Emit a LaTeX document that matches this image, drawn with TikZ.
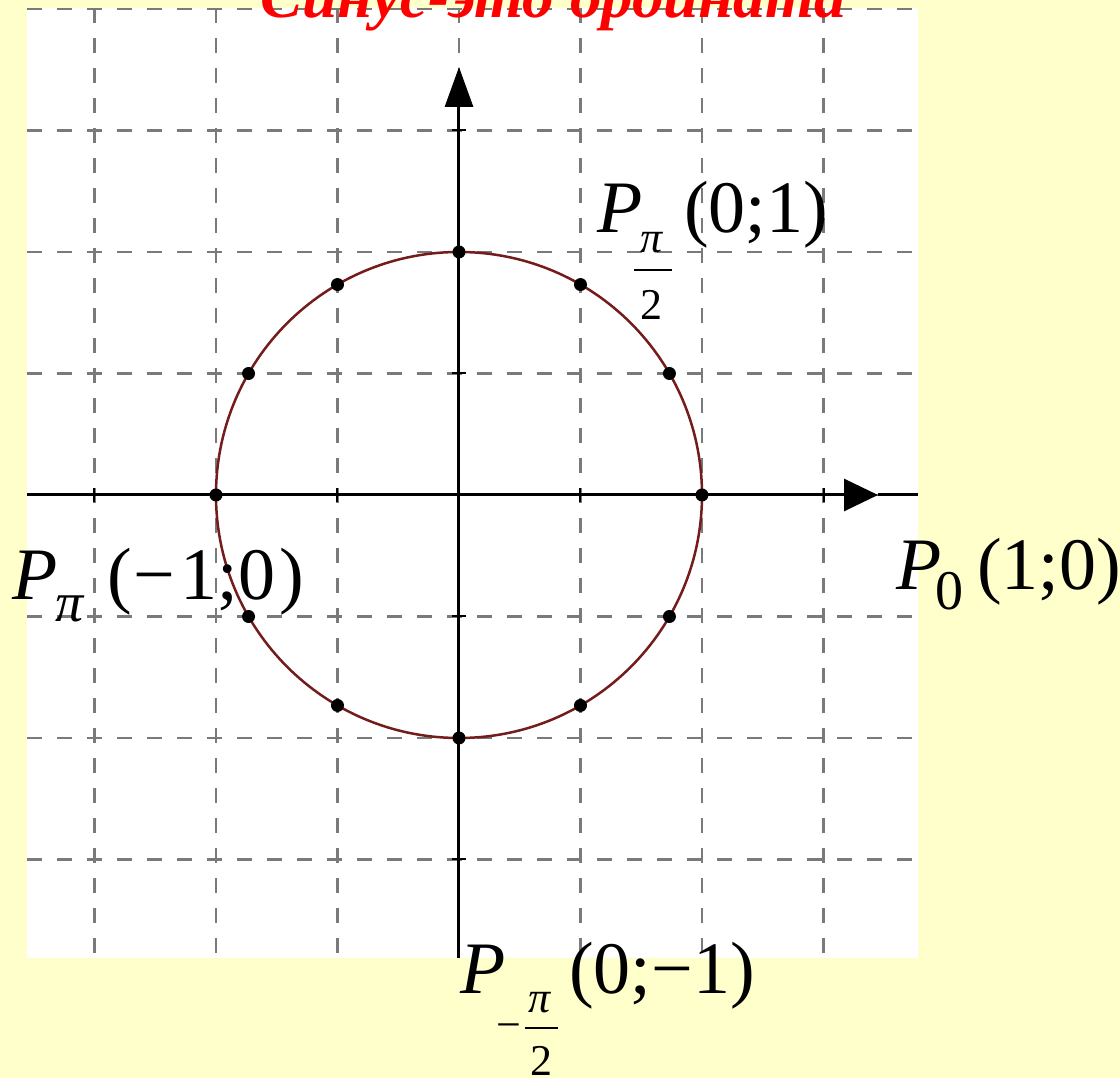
\documentclass[tikz,border=0pt]{standalone}
\usepackage{fontspec}
\setmainfont{Liberation Serif}
\usetikzlibrary{arrows.meta}

\definecolor{bgyellow}{HTML}{FFFFCC}
\definecolor{gridgray}{HTML}{7A7A7A}
\definecolor{circred}{HTML}{741C1C}

\tikzset{
  biglbl/.style={inner sep=0pt, font=\fontsize{74}{74}\selectfont},
  sublbl/.style={inner sep=0pt, font=\fontsize{56}{56}\selectfont},
  fraclbl/.style={inner sep=0pt, font=\fontsize{44}{44}\selectfont},
  gridline/.style={gridgray, line width=2.5pt, dash pattern=on 15pt off 15pt},
  axisline/.style={line width=3pt},
  fracbar/.style={line width=2pt}
}

\begin{document}
\begin{tikzpicture}[x=1pt, y=1pt]
  \def\g{121.5}
  \def\r{243}
  % Background and panel
  \useasboundingbox (-459,-583) rectangle (661,495);
  \fill[bgyellow] (-459,-583) rectangle (661,495);
  \fill[white] (-432,-463) rectangle (459,487);

  % Grid
  \foreach \k in {-3,...,3}
    \draw[gridline] (\k*\g,487) -- (\k*\g,-463);
  \foreach \k in {-3,...,4}
    \draw[gridline] (-432,\k*\g) -- (459,\k*\g);

  % Axes
  \coordinate (O) at (0,0);
  \coordinate (xs) at (-432,0);
  \coordinate (xt) at (419,0);
  \coordinate (xe) at (459,0);
  \coordinate (ys) at (0,-463);
  \coordinate (yt) at (0,428);
  \draw[axisline, -{Triangle[length=34pt, width=32pt]}] (xs) -- (xt);
  \draw[axisline] (xt) -- (xe);
  \draw[axisline, -{Triangle[length=40pt, width=28pt]}] (ys) -- (yt);

  % Ticks
  \foreach \k in {-3,...,3}
    \draw[line width=2pt] (\k*\g,-7) -- (\k*\g,7);
  \foreach \k in {-3,...,3}
    \draw[line width=2pt] (-7,\k*\g) -- (7,\k*\g);

  % Unit circle and points
  \draw[circred, line width=2.5pt] (O) circle (\r);
  \foreach \a in {0,30,...,330}
    \fill (\a:\r) circle (6.5);

  % Title
  \node[inner sep=0pt, font=\fontsize{63}{63}\selectfont\bfseries\itshape, text=red, anchor=base] (title) at (94,477) {Синус-это ордината};

  % P_{pi/2} (0;1)
  \node[biglbl, anchor=base west] (ptop) at (138,262) {\itshape P};
  \node[fraclbl, anchor=base] (ptoppi) at (193,242) {\itshape π};
  \draw[fracbar] (175,225) -- (213,225);
  \node[fraclbl, anchor=base] (ptoptwo) at (193,175) {2};
  \node[biglbl, anchor=base west] (ptopxy) at (225,262) {(0;1)};

  % P_pi (-1;0)
  \node[biglbl, anchor=base west] (pleft) at (-447,-105) {\itshape P};
  \node[sublbl, anchor=base west] (pleftpi) at (-404,-127) {\itshape π};
  \node[biglbl, anchor=base west] (pleftxy) at (-352,-105) {(\hspace{2pt}−\hspace{5pt}1;0\hspace{4pt})};

  % P_0 (1;0)
  \node[biglbl, anchor=base west] (pright) at (437,-95) {\itshape P};
  \node[sublbl, anchor=base west] (prightzero) at (476,-115) {0};
  \node[biglbl, anchor=base west] (prightxy) at (518,-95) {(1;0)};

  % P_{-pi/2} (0;-1)
  \node[biglbl, anchor=base west] (pbot) at (1,-498) {\itshape P};
  \node[fraclbl, anchor=base west] (pbotminus) at (37,-544) {−};
  \node[fraclbl, anchor=base] (pbotpi) at (81,-518) {\itshape π};
  \draw[fracbar] (66,-533) -- (99,-533);
  \node[fraclbl, anchor=base] (pbottwo) at (83,-580) {2};
  \node[biglbl, anchor=base west] (pbotxy) at (110,-498) {(0;−1)};
\end{tikzpicture}
\end{document}
